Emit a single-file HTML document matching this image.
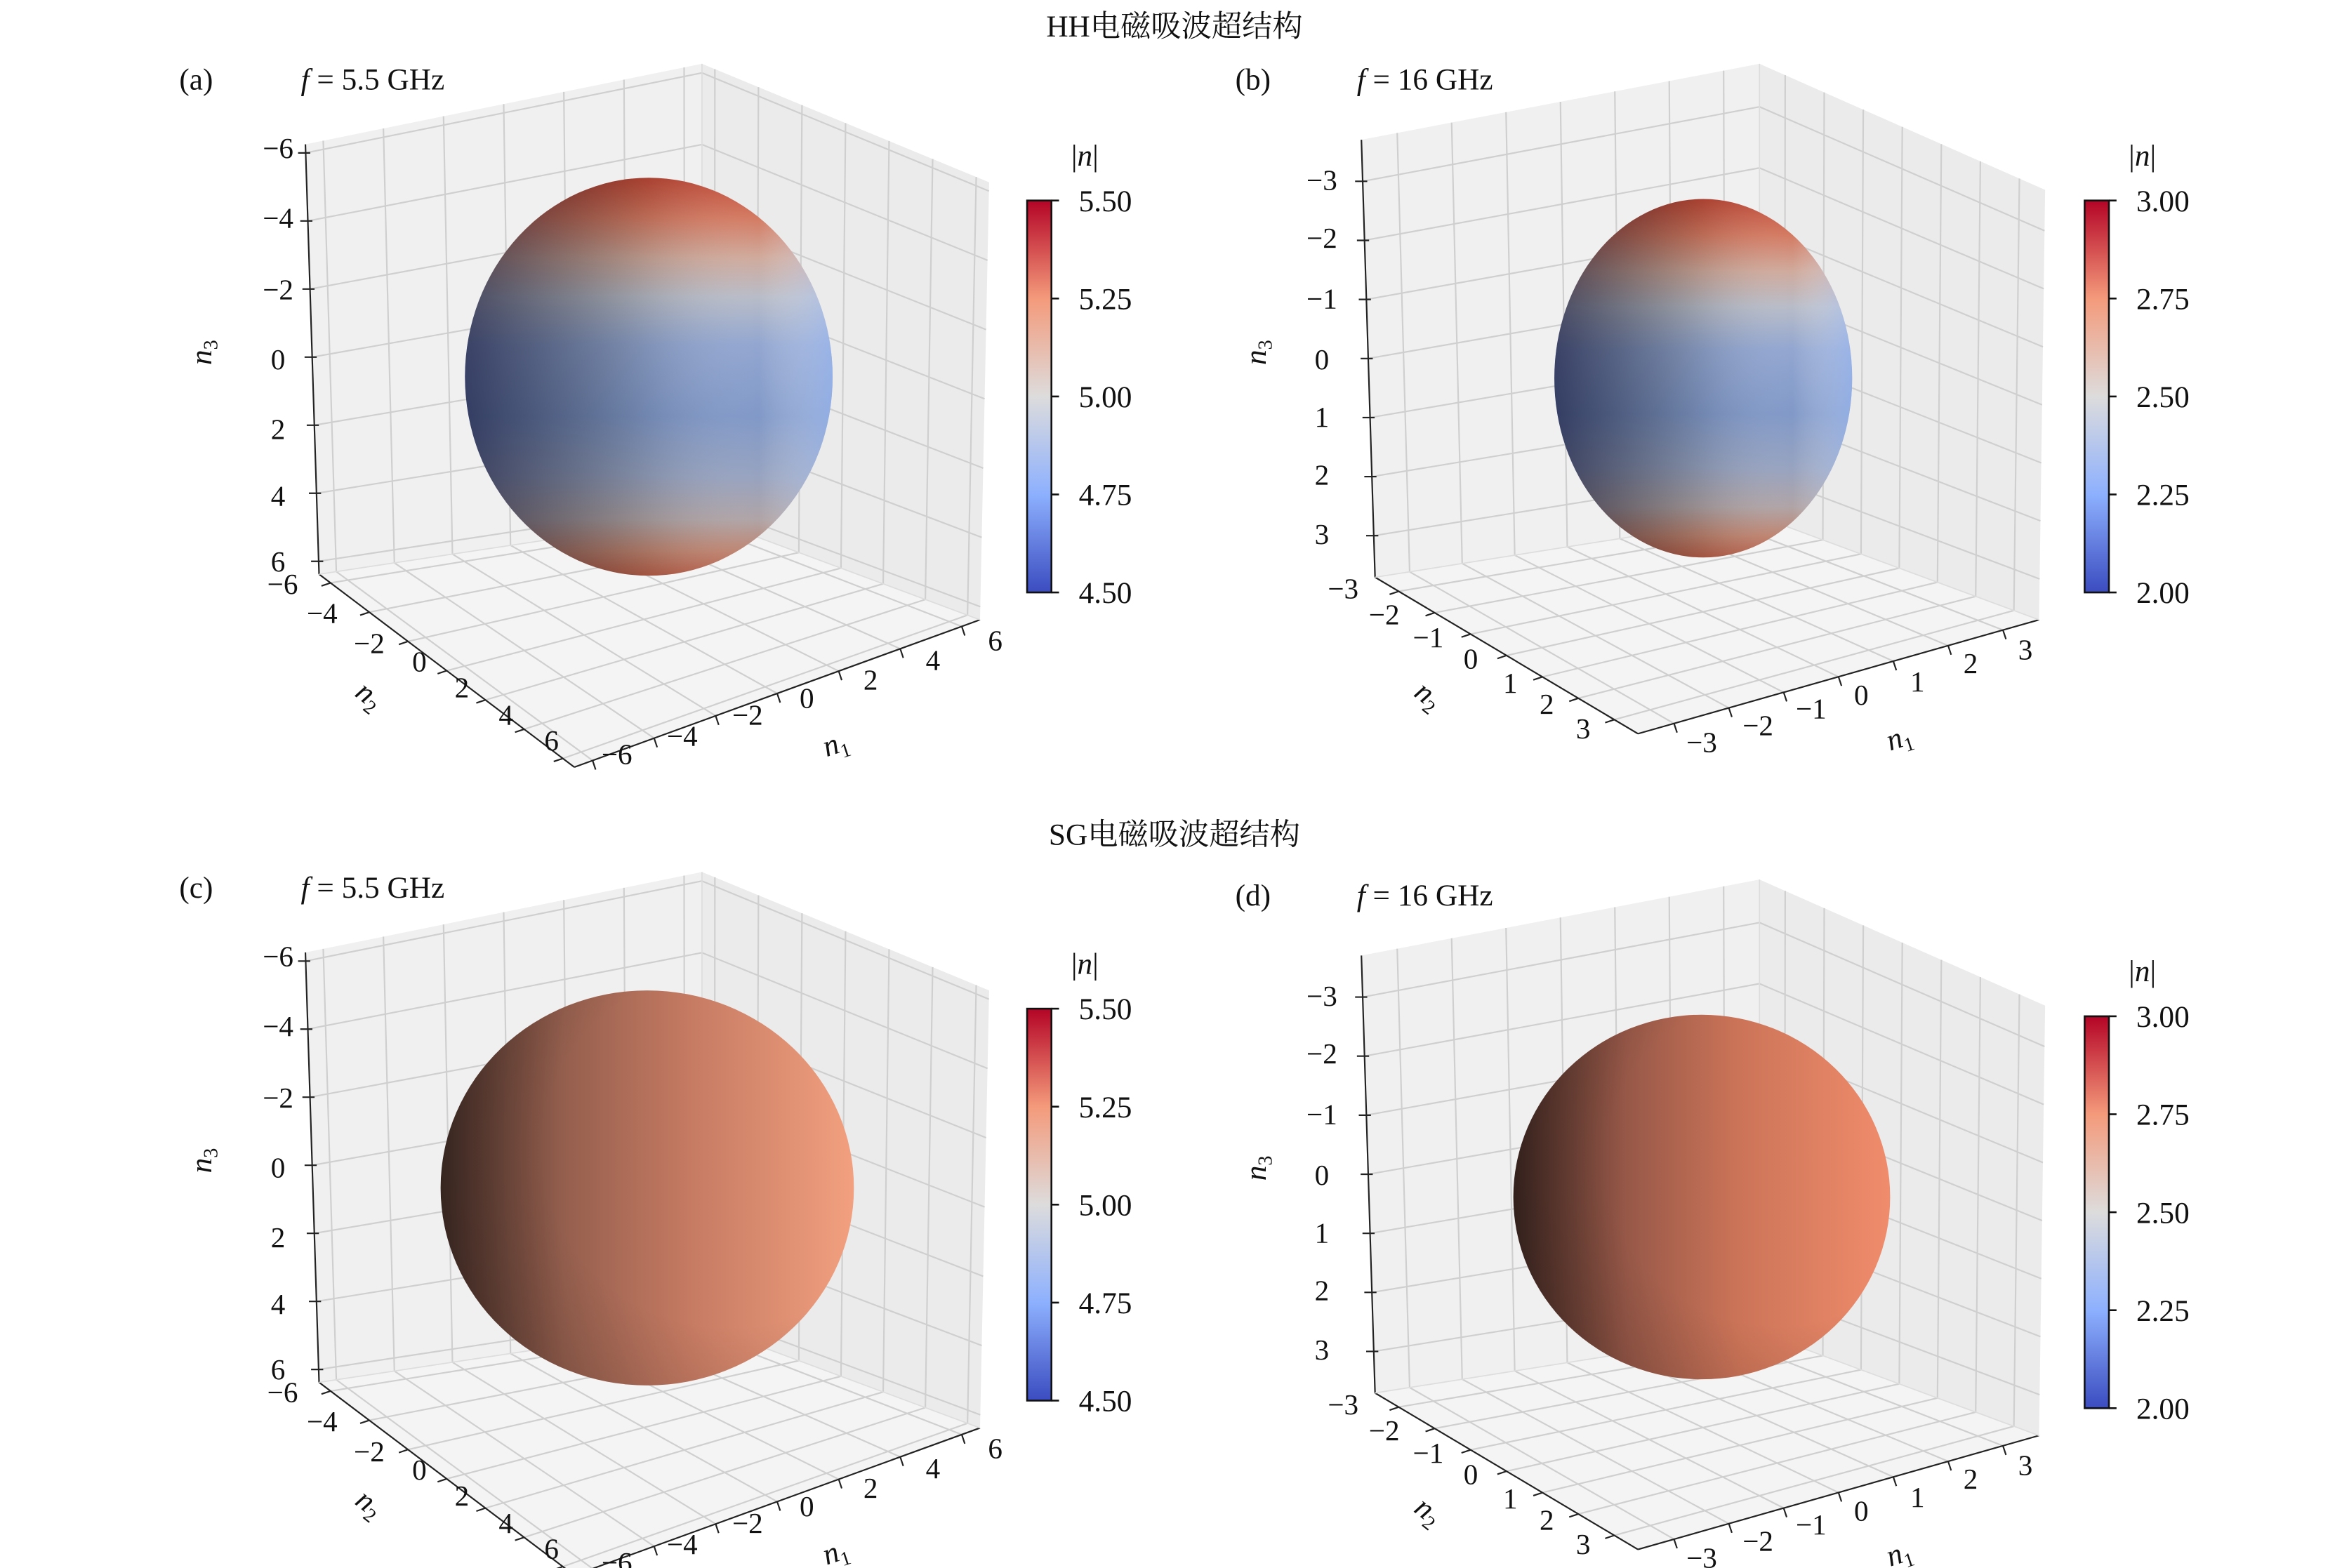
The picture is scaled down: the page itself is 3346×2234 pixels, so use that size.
<!DOCTYPE html>
<html><head><meta charset="utf-8">
<style>
html,body{margin:0;padding:0;background:#fff;}
svg{display:block;}
text{font-family:"Liberation Serif","Noto Serif CJK SC",serif;fill:#111;}
</style></head>
<body>
<svg id="s" xmlns="http://www.w3.org/2000/svg" width="3346" height="2234" viewBox="0 0 1546 1032.2">
<defs>
<linearGradient id="cw" x1="0" y1="0" x2="0" y2="1">
<stop offset="0" stop-color="#b40426"/><stop offset="0.25" stop-color="#f49a7b"/>
<stop offset="0.5" stop-color="#dddcdc"/><stop offset="0.75" stop-color="#8db0fe"/>
<stop offset="1" stop-color="#3b4cc0"/></linearGradient>
<linearGradient id="va" x1="0" y1="0" x2="0" y2="1">
<stop offset="0" stop-color="#c04a38"/><stop offset="0.1" stop-color="#d47a62"/>
<stop offset="0.2" stop-color="#d0aa9c"/><stop offset="0.3" stop-color="#b8bcc8"/>
<stop offset="0.42" stop-color="#92a6d0"/><stop offset="0.6" stop-color="#8199c8"/>
<stop offset="0.75" stop-color="#97a3c0"/><stop offset="0.86" stop-color="#b0a4a6"/>
<stop offset="0.94" stop-color="#bf8470"/><stop offset="1" stop-color="#b8604a"/></linearGradient>
<linearGradient id="ha" x1="0" y1="0" x2="1" y2="0">
<stop offset="0" stop-color="#000020" stop-opacity="0.6"/><stop offset="0.5" stop-color="#000" stop-opacity="0.12"/>
<stop offset="0.8" stop-color="#fff" stop-opacity="0"/><stop offset="1" stop-color="#9fc0ff" stop-opacity="0.5"/></linearGradient>
<linearGradient id="hc" x1="0" y1="0" x2="1" y2="0">
<stop offset="0" stop-color="#3e2a24"/><stop offset="0.3" stop-color="#955f4e"/>
<stop offset="0.6" stop-color="#c57a62"/><stop offset="1" stop-color="#f2a07f"/></linearGradient>
<linearGradient id="hd" x1="0" y1="0" x2="1" y2="0">
<stop offset="0" stop-color="#3a2520"/><stop offset="0.3" stop-color="#975848"/>
<stop offset="0.6" stop-color="#cc7458"/><stop offset="1" stop-color="#f08c6c"/></linearGradient>
<radialGradient id="shade" cx="0.7" cy="0.4" r="0.75">
<stop offset="0.6" stop-color="#000" stop-opacity="0"/><stop offset="1" stop-color="#000" stop-opacity="0.15"/></radialGradient>
</defs>
<text x="773" y="24" font-size="20" text-anchor="middle">HH电磁吸波超结构</text>
<text x="773" y="556" font-size="20" text-anchor="middle">SG电磁吸波超结构</text>
</svg>
<script>
const S=document.getElementById('s');const NS='http://www.w3.org/2000/svg';
function el(t,a,txt,par){const e=document.createElementNS(NS,t);for(const k in a)e.setAttribute(k,a[k]);if(txt!==undefined)e.textContent=txt;(par||S).appendChild(e);return e;}
function lerp(p,q,t){return [p[0]+(q[0]-p[0])*t,p[1]+(q[1]-p[1])*t];}
function line(p,q,c,w){el('line',{x1:p[0],y1:p[1],x2:q[0],y2:q[1],stroke:c,'stroke-width':w});}
function tx(x,y,s,sz,anc,extra){const a={x:x,y:y,'font-size':sz||19,'text-anchor':anc||'middle'};Object.assign(a,extra||{});return el('text',a,s);}
function alab(x,y,rot,sub){const g=el('g',{transform:`translate(${x} ${y}) rotate(${rot})`});
 const t=el('text',{x:0,y:6,'font-size':20,'text-anchor':'middle'},undefined,g);
 t.innerHTML='<tspan font-style="italic">n</tspan><tspan font-size="13" dy="4">'+sub+'</tspan>';}
function panel(P){
 const d=P.dy;const sh=p=>[p[0],p[1]+d];
 const LT=sh(P.LT),LB=sh(P.LB),BT=sh(P.BT),BB=sh(P.BB),RT=sh(P.RT),RB=sh(P.RB),F=sh(P.F);
 const pane=(pts,f)=>el('polygon',{points:pts.map(p=>p.join(',')).join(' '),fill:f,stroke:'none'});
 pane([LT,BT,BB,LB],'#f0f0f0');pane([BT,RT,RB,BB],'#ebebeb');pane([LB,BB,RB,F],'#f4f4f4');
 const g='#cfcfcf',gw=1;
 const fr=P.fr;
 fr.forEach(t=>{line(lerp(LT,BT,t),lerp(LB,BB,t),g,gw);});
 P.zf.forEach(t=>{line(lerp(LT,LB,t),lerp(BT,BB,t),g,gw);line(lerp(BT,BB,t),lerp(RT,RB,t),g,gw);});
 fr.forEach(t=>{line(lerp(BT,RT,t),lerp(BB,RB,t),g,gw);});
 fr.forEach(t=>{line(lerp(LB,BB,t),lerp(F,RB,t),g,gw);line(lerp(LB,F,t),lerp(BB,RB,t),g,gw);});
 line(LT,LB,'#222',1);line(LB,F,'#222',1);line(F,RB,'#222',1);
 line(LB,BB,'#ddd',0.8);line(BB,RB,'#ddd',0.8);line(BT,BB,'#ddd',0.8);
 const c=P.sph;
 if(P.kind==='a'){
  el('ellipse',{cx:c[0],cy:c[1]+d,rx:c[2],ry:c[3],fill:'url(#va)'});
  el('ellipse',{cx:c[0],cy:c[1]+d,rx:c[2],ry:c[3],fill:'url(#ha)'});
 } else {
  el('ellipse',{cx:c[0],cy:c[1]+d,rx:c[2],ry:c[3],fill:'url(#'+P.kind+')'});
  el('ellipse',{cx:c[0],cy:c[1]+d,rx:c[2],ry:c[3],fill:'url(#shade)'});
 }
 P.zf.forEach(t=>{const p=lerp(LT,LB,t);line([p[0]-5,p[1]],[p[0]+3,p[1]],'#222',1);});
 P.zl.forEach((s,i)=>tx(P.zx,P.zy[i]+d+6,s,19));
 fr.forEach(t=>{const p=lerp(LB,F,t);line(p,[p[0]-6,p[1]+2],'#222',1);const q=lerp(F,RB,t);line(q,[q[0]+2,q[1]+6],'#222',1);});
 P.n2l.forEach((s,i)=>tx(P.n2p[i][0],P.n2p[i][1]+d+6,s,19));
 P.n1l.forEach((s,i)=>tx(P.n1p[i][0],P.n1p[i][1]+d+6,s,19));
 alab(P.n3lab[0],P.n3lab[1]+d,-90,'3');
 alab(P.n2lab[0],P.n2lab[1]+d,38,'2');
 alab(P.n1lab[0],P.n1lab[1]+d,-18,'1');
 tx(P.lab[0],59+d,P.lab[1],20,'start');
 const t=tx(P.lab[0]+80,59+d,'',20,'start');
 t.innerHTML='<tspan font-style="italic">f</tspan> = '+P.f+' GHz';
 const cb=P.cb;const cy0=132+P.cbdy,cy1=390+P.cbdy;
 el('rect',{x:cb,y:cy0,width:16,height:cy1-cy0,fill:'url(#cw)',stroke:'#111','stroke-width':1.2});
 P.cbl.forEach((s,i)=>{const y=cy0+(cy1-cy0)*i/4;line([cb+16,y],[cb+21,y],'#111',1.2);tx(cb+34,y+7,s,20,'start');});
 const tl=tx(cb+38,cy0-23,'',20,'middle');tl.innerHTML='|<tspan font-style="italic">n</tspan>|';
}
const fA=[0,1,2,3,4,5,6].map(i=>0.045+0.91*i/6);
const A={LT:[201,95],LB:[210,378],BT:[462,42],BB:[462,340],RT:[651,120],RB:[645,408],F:[378,505],fr:fA,
 zf:[0,1,2,3,4,5,6].map(i=>0.02+0.95*i/6),zl:['−6','−4','−2','0','2','4','6'],zx:183,zy:[98,144,191,237,283,327,370],
 n2l:['−6','−4','−2','0','2','4','6'],n2p:[[186,385],[212,404],[243,424],[276,436],[304,453],[333,471],[363,488]],
 n1l:['−6','−4','−2','0','2','4','6'],n1p:[[406,497],[449,485],[492,471],[531,460],[573,448],[614,435],[655,422]],
 n3lab:[133,232],n2lab:[243,458],n1lab:[550,490],cb:676,cbl:['5.50','5.25','5.00','4.75','4.50']};
const fB=[0,1,2,3,4,5,6].map(i=>0.09+0.82*i/6);
const B={LT:[896,92],LB:[905,380],BT:[1158,42],BB:[1158,340],RT:[1346,125],RB:[1342,408],F:[1078,483],fr:fB,
 zf:[0,1,2,3,4,5,6].map(i=>0.095+0.81*i/6),zl:['−3','−2','−1','0','1','2','3'],zx:870,zy:[119,157,197,237,275,313,352],
 n2l:['−3','−2','−1','0','1','2','3'],n2p:[[884,388],[911,405],[940,420],[968,434],[994,450],[1018,464],[1042,480]],
 n1l:['−3','−2','−1','0','1','2','3'],n1p:[[1120,489],[1157,478],[1192,467],[1225,458],[1262,449],[1297,437],[1333,428]],
 n3lab:[827,232],n2lab:[940,458],n1lab:[1250,486],cb:1372,cbl:['3.00','2.75','2.50','2.25','2.00']};
panel(Object.assign({},A,{dy:0,cbdy:0,kind:'a',sph:[427,248,121,131],lab:[118,'(a)'],f:'5.5'}));
panel(Object.assign({},B,{dy:0,cbdy:0,kind:'a',sph:[1121,249,98,118],lab:[813,'(b)'],f:'16'}));
panel(Object.assign({},A,{dy:532,cbdy:532,kind:'hc',sph:[426,250,136,130],lab:[118,'(c)'],f:'5.5'}));
panel(Object.assign({},B,{dy:537,cbdy:537,kind:'hd',sph:[1120,251,124,120],lab:[813,'(d)'],f:'16'}));
</script>
</body></html>
